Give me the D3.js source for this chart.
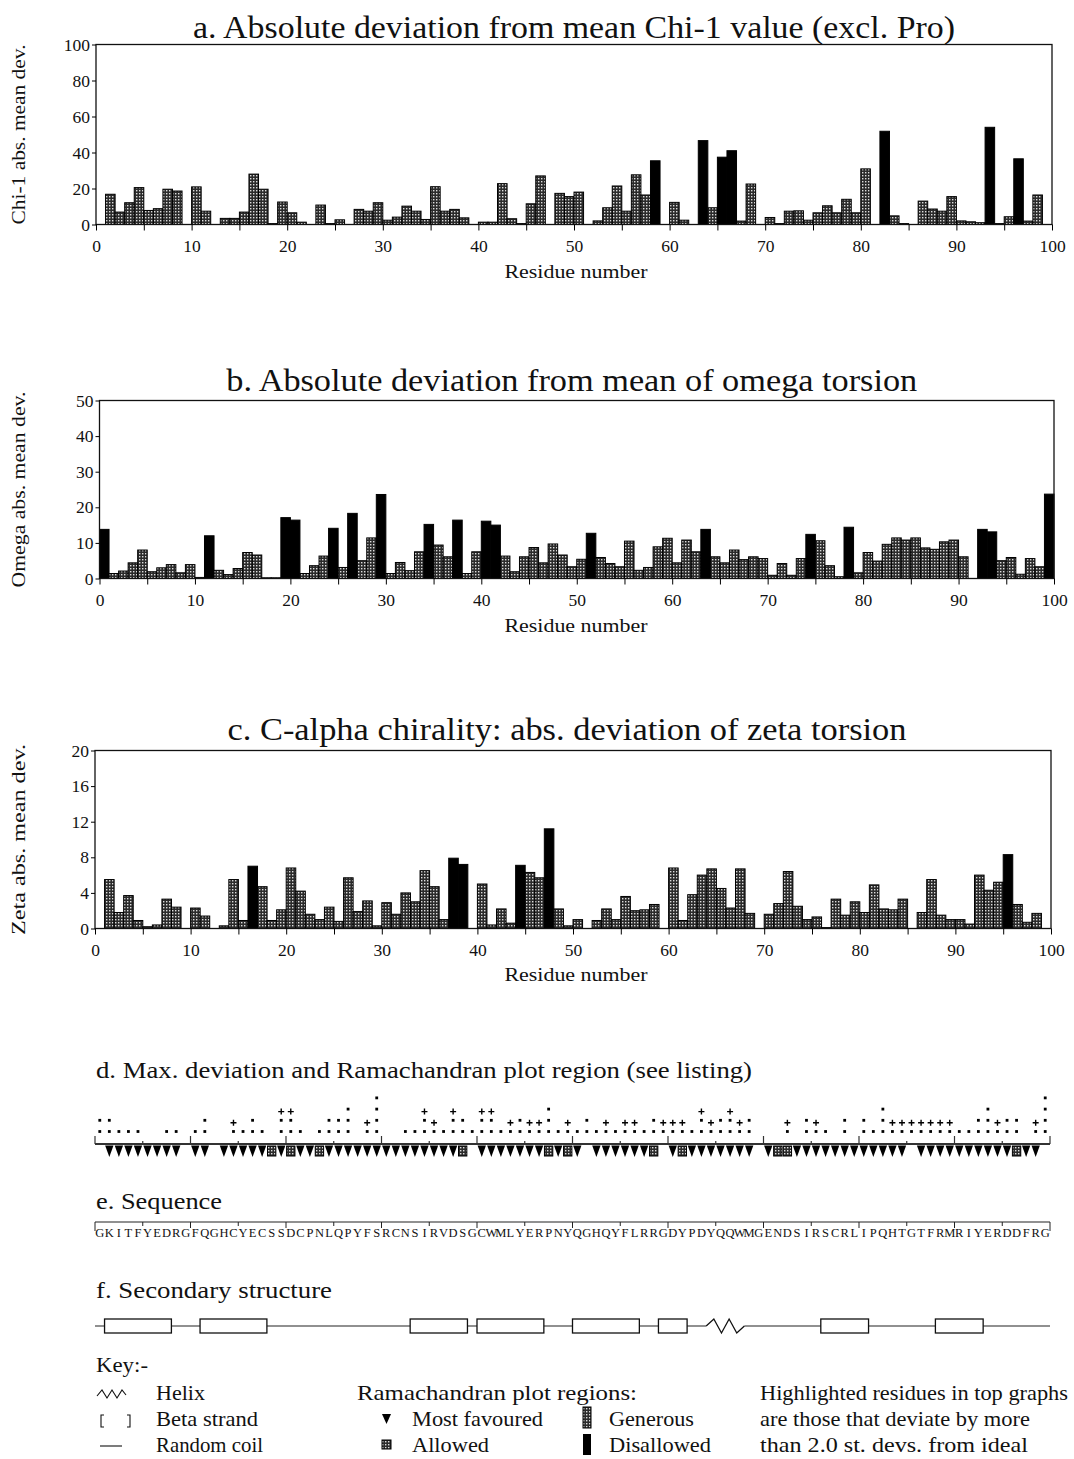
<!DOCTYPE html>
<html>
<head>
<meta charset="utf-8">
<script src="https://cdn.jsdelivr.net/npm/d3@7/dist/d3.min.js"></script>
<style>
    body { margin: 0; background: #fff; }
    svg text { font-family: "Liberation Serif", "DejaVu Serif", serif; fill: #111; }
</style>
</head>
<body>
<svg id="chart" width="1074" height="1459"></svg>
<script>
// residue sequence, one letter per residue (1..100)
let sequence = ("GKITFYEDRG" + "FQGHCYECSS" + "DCPNLQPYFS" + "RCNSIRVDSG" + "CWMLYERPNY" +
    "QGHQYFLRRG" + "DYPDYQQWMG" + "ENDSIRSCRL" + "IPQHTGTFRM" + "RIYERDDFRG").split("");

// a. chi-1 abs. mean dev.
let chi1 = [
    0, 16.8, 6.9, 12.1, 20.5, 7.8, 8.8, 19.6, 18.6, 0,
    20.9, 7.4, 0, 3.4, 3.4, 6.9, 28, 19.6, 0.5, 12.5,
    6.5, 1.3, 0, 10.8, 0.5, 2.6, 0, 8.4, 7.4, 12.1,
    2.4, 4.1, 10.2, 7.4, 2.8, 21, 7.4, 8.4, 3.7, 0,
    1.3, 1.3, 22.7, 3.2, 0.5, 11.5, 27, 0, 17.3, 15.5,
    18, 0, 2, 9.3, 21.4, 7.4, 27.6, 16.4, 35.4, 0,
    12.3, 2.4, 0, 46.6, 9.3, 37.4, 41, 1.9, 22.5, 0,
    3.9, 0.5, 7.4, 7.6, 2.4, 6.5, 10.4, 6.5, 14, 6.5,
    30.9, 0, 51.8, 4.8, 0.5, 0, 13, 8.6, 7.4, 15.5,
    2, 1.5, 1, 54, 0.5, 4.3, 36.5, 1.9, 16.4, 0];
let chi1High = [59, 64, 66, 67, 83, 94, 97];

// b. omega abs. mean dev.
let omega = [
    13.8, 1.4, 2.1, 4.4, 8.0, 1.9, 3.0, 3.9, 1.6, 3.9,
    0.3, 12, 2.3, 1.1, 2.8, 7.3, 6.6, 0.2, 0.2, 17.1,
    16.4, 1.4, 3.6, 6.3, 14.1, 3.1, 18.3, 5.0, 11.4, 23.6,
    1.4, 4.5, 2.2, 7.5, 15.2, 9.4, 6.1, 16.4, 1.4, 7.5,
    16.1, 15.0, 6.3, 1.9, 6.1, 8.7, 4.4, 9.7, 6.6, 3.3,
    5.4, 12.7, 5.9, 4.2, 3.3, 10.5, 2.3, 3.1, 8.9, 11.3,
    4.4, 10.8, 7.5, 13.8, 6.1, 4.4, 8.0, 5.3, 6.1, 5.6,
    0.9, 4.2, 0.9, 5.6, 12.4, 10.6, 3.6, 0.5, 14.4, 1.6,
    7.3, 4.9, 9.6, 11.4, 10.8, 11.4, 8.6, 8.2, 10.3, 10.8,
    6.1, 0, 13.8, 13.1, 5.0, 5.9, 1.2, 5.6, 3.3, 23.7];
let omegaHigh = [1, 12, 20, 21, 25, 27, 30, 35, 38, 41, 42, 52, 64, 75, 79, 93, 94, 100];

// c. zeta abs. mean dev.
let zeta = [
    0, 5.5, 1.8, 3.7, 0.9, 0.2, 0.4, 3.3, 2.4, 0,
    2.3, 1.4, 0, 0.3, 5.5, 0.9, 7.0, 4.7, 0.9, 2.1,
    6.8, 4.2, 1.6, 1.0, 2.4, 0.8, 5.7, 1.9, 3.1, 0.3,
    2.9, 1.6, 4.0, 3.0, 6.5, 4.7, 1.0, 7.9, 7.2, 0,
    5.0, 0.4, 2.2, 0.6, 7.1, 6.3, 5.7, 11.2, 2.2, 0.3,
    1.0, 0, 0.9, 2.2, 1.0, 3.6, 2.0, 2.1, 2.7, 0,
    6.8, 0.9, 3.8, 6.0, 6.7, 4.5, 2.3, 6.7, 1.7, 0,
    1.6, 2.8, 6.4, 2.5, 1.0, 1.3, 0.1, 3.3, 1.5, 3.0,
    1.8, 4.9, 2.2, 2.1, 3.3, 0, 1.8, 5.5, 1.5, 1.0,
    1.0, 0.5, 6.0, 4.3, 5.2, 8.3, 2.7, 0.7, 1.7, 0];
let zetaHigh = [17, 38, 39, 45, 48, 96];

let chiTicks = [0, 20, 40, 60, 80, 100];
let omegaTicks = [0, 10, 20, 30, 40, 50];
let zetaTicks = [0, 4, 8, 12, 16, 20];

// d. max deviation: number of dots per residue, residues topped with a '+'
let maxDevDots = [
    2, 2, 1, 1, 1, 0, 0, 1, 1, 0,
    1, 2, 0, 0, 1, 1, 2, 1, 0, 2,
    2, 1, 0, 1, 2, 2, 3, 0, 1, 4,
    0, 0, 1, 1, 2, 1, 1, 2, 2, 1,
    2, 2, 1, 1, 2, 1, 1, 3, 1, 1,
    1, 2, 1, 1, 1, 1, 1, 1, 2, 1,
    1, 1, 1, 2, 1, 2, 2, 1, 2, 0,
    0, 0, 1, 0, 2, 1, 1, 0, 2, 0,
    2, 1, 3, 1, 1, 1, 1, 1, 1, 1,
    1, 1, 2, 3, 1, 2, 2, 0, 1, 4];
let maxDevPlus = [15, 20, 21, 29, 35, 36, 38, 41, 42, 44, 46, 47, 50, 54, 56, 57, 60, 61, 62, 64,
    65, 67, 68, 73, 76, 84, 85, 86, 87, 88, 89, 90, 95, 99];

// Ramachandran region per residue: F most favoured, A allowed, - none
let ramaRegion = ("-FFFFFFFF-" + "FF-FFFFFAF" + "AFFAFFFFFF" + "FFFFFFFFA-" + "FFFFFFFAFA" +
    "F-FFFFFFA-" + "FAFFFFFFF-" + "FAAFFFFFFF" + "FFFFF-FFFF" + "FFFFFFAFF-").split("");

// f. secondary structure (first, last residue)
let strands = [[2, 8], [12, 18], [34, 39], [41, 47], [51, 57], [60, 62], [77, 81], [89, 93]];
let helices = [[65, 68]];

let residues = d3.range(1, 101);
let svg = d3.select("#chart");
let serif = "Liberation Serif";

// stipple used for the 'generous' bars
let defs = svg.append("defs");
let pat = defs.append("pattern").attr("id", "stip")
    .attr("patternUnits", "userSpaceOnUse").attr("width", 3).attr("height", 3);
pat.append("rect").attr("width", 3).attr("height", 3).attr("fill", "#2b2b2b");
pat.append("rect").attr("x", 1).attr("y", 1).attr("width", 1.4).attr("height", 1.4).attr("fill", "#dcdcdc");

function draw_bars(p) {
    let x = d3.scaleLinear().domain([0, 100]).range([p.left, p.right]);
    let y = d3.scaleLinear().domain([0, p.yTicks[p.yTicks.length - 1]]).range([p.bottom, p.top]);
    let g = svg.append("g");

    g.append("text")
        .attr("x", (p.left + p.right) / 2 + p.titleShift).attr("y", p.titleY)
        .attr("text-anchor", "middle").attr("font-size", 30.5)
        .attr("textLength", p.titleLen).attr("lengthAdjust", "spacingAndGlyphs")
        .text(p.title);

    // bars
    g.append("g").selectAll("rect")
        .data(residues.filter(r => p.values[r - 1] > 0))
        .join("rect")
        .attr("x", r => x(r - 1))
        .attr("width", r => x(r) - x(r - 1))
        .attr("y", r => y(p.values[r - 1]))
        .attr("height", r => y(0) - y(p.values[r - 1]))
        .attr("fill", r => p.high.includes(r) ? "#000" : "url(#stip)")
        .attr("stroke", "#000").attr("stroke-width", 1);

    // frame
    g.append("rect")
        .attr("x", p.left).attr("y", p.top)
        .attr("width", p.right - p.left).attr("height", p.bottom - p.top)
        .attr("fill", "none").attr("stroke", "#111").attr("stroke-width", 1.3);

    // y axis
    g.append("g").attr("transform", `translate(${p.left},0)`)
        .call(d3.axisLeft(y).tickValues(p.yTicks).tickSize(4).tickPadding(2))
        .call(a => a.select(".domain").remove())
        .attr("font-size", 17.5).attr("font-family", serif);

    // x axis, ticks every 5, labels every 10
    g.append("g").attr("transform", `translate(0,${p.bottom})`)
        .call(d3.axisBottom(x).tickValues(d3.range(0, 101, 5)).tickSize(6).tickPadding(9)
            .tickFormat(d => d % 10 === 0 ? d : ""))
        .call(a => a.select(".domain").remove())
        .attr("font-size", 17.5).attr("font-family", serif);

    g.append("text")
        .attr("x", 576).attr("y", p.xlabY)
        .attr("text-anchor", "middle").attr("font-size", 19)
        .attr("textLength", 143).attr("lengthAdjust", "spacingAndGlyphs")
        .text("Residue number");

    g.append("text")
        .attr("transform", `translate(25,${(p.top + p.bottom) / 2}) rotate(-90)`)
        .attr("text-anchor", "middle").attr("font-size", 19)
        .attr("textLength", p.ylabLen).attr("lengthAdjust", "spacingAndGlyphs")
        .text(p.ylab);
}

draw_bars({
    title: "a. Absolute deviation from mean Chi-1 value (excl. Pro)", titleY: 38, titleLen: 762, titleShift: 0,
    ylab: "Chi-1 abs. mean dev.", ylabLen: 180, values: chi1, high: chi1High, yTicks: chiTicks,
    left: 96, right: 1052, top: 44.5, bottom: 224.5, xlabY: 278
});
draw_bars({
    title: "b. Absolute deviation from mean of omega torsion", titleY: 391, titleLen: 691, titleShift: -5,
    ylab: "Omega abs. mean dev.", ylabLen: 196, values: omega, high: omegaHigh, yTicks: omegaTicks,
    left: 99.5, right: 1054, top: 400.5, bottom: 578.5, xlabY: 632
});
draw_bars({
    title: "c. C-alpha chirality: abs. deviation of zeta torsion", titleY: 740, titleLen: 679, titleShift: -6,
    ylab: "Zeta abs. mean dev.", ylabLen: 191, values: zeta, high: zetaHigh, yTicks: zetaTicks,
    left: 95, right: 1051, top: 750.5, bottom: 928.5, xlabY: 981
});

// lower panels share one residue scale
let xs = d3.scaleLinear().domain([0, 100]).range([95, 1050]);

function section_title(label, y, len) {
    svg.append("text").attr("x", 96).attr("y", y).attr("font-size", 23)
        .attr("textLength", len).attr("lengthAdjust", "spacingAndGlyphs").text(label);
}

// d. max deviation + Ramachandran regions
section_title("d. Max. deviation and Ramachandran plot region (see listing)", 1078, 656);
let dBase = 1144;
let gd = svg.append("g");
gd.append("line").attr("x1", xs(0)).attr("x2", xs(100)).attr("y1", dBase).attr("y2", dBase)
    .attr("stroke", "#333").attr("stroke-width", 2);
gd.selectAll(".dtick").data(d3.range(0, 101, 5)).join("line")
    .attr("x1", d => xs(d)).attr("x2", d => xs(d))
    .attr("y1", dBase).attr("y2", d => dBase - (d % 10 === 0 ? 8 : 3))
    .attr("stroke", "#333").attr("stroke-width", 1.2);

let dots = [];
residues.forEach(r => {
    for (let k = 0; k < maxDevDots[r - 1]; k++) dots.push({ r: r, k: k });
});
gd.selectAll(".dot").data(dots).join("rect")
    .attr("x", d => xs(d.r - 0.5) - 1.4).attr("y", d => dBase - 12.5 - d.k * 11.2 - 1.4)
    .attr("width", 2.8).attr("height", 2.8).attr("fill", "#000");
gd.selectAll(".plus").data(maxDevPlus).join("path")
    .attr("d", r => {
        let cx = xs(r - 0.5), cy = dBase - 12.5 - maxDevDots[r - 1] * 11.2 + 2.5;
        return `M${cx - 3},${cy}h6M${cx},${cy - 3}v6`;
    })
    .attr("stroke", "#000").attr("stroke-width", 1.4);

gd.selectAll(".fav").data(residues.filter(r => ramaRegion[r - 1] === "F")).join("path")
    .attr("d", r => `M${xs(r - 1) + 0.6},${dBase + 1.5}L${xs(r) - 0.6},${dBase + 1.5}L${xs(r - 0.5)},${dBase + 13}Z`)
    .attr("fill", "#000");
gd.selectAll(".allow").data(residues.filter(r => ramaRegion[r - 1] === "A")).join("rect")
    .attr("x", r => xs(r - 1) + 0.6).attr("width", r => xs(r) - xs(r - 1) - 1.2)
    .attr("y", dBase + 2).attr("height", 10)
    .attr("fill", "url(#stip)").attr("stroke", "#000").attr("stroke-width", 1);

// e. sequence
section_title("e. Sequence", 1209, 126);
let eTop = 1222;
let ge = svg.append("g");
ge.append("line").attr("x1", xs(0)).attr("x2", xs(100)).attr("y1", eTop).attr("y2", eTop)
    .attr("stroke", "#222").attr("stroke-width", 1.2);
ge.selectAll("line.et").data(d3.range(0, 101, 5)).join("line").attr("class", "et")
    .attr("x1", d => xs(d)).attr("x2", d => xs(d))
    .attr("y1", eTop).attr("y2", d => eTop + (d === 0 || d === 100 ? 9 : d % 10 === 0 ? 6 : 4))
    .attr("stroke", "#222").attr("stroke-width", 1);
ge.selectAll("text").data(residues).join("text")
    .attr("x", r => xs(r - 0.5)).attr("y", eTop + 15)
    .attr("text-anchor", "middle").attr("font-size", 12.5)
    .text(r => sequence[r - 1]);

// f. secondary structure
section_title("f. Secondary structure", 1298, 236);
let fMid = 1326;
let gf = svg.append("g");
gf.append("line").attr("x1", xs(0)).attr("x2", xs(100)).attr("y1", fMid).attr("y2", fMid)
    .attr("stroke", "#222").attr("stroke-width", 1.2);
gf.selectAll("rect").data(strands).join("rect")
    .attr("x", d => xs(d[0] - 1)).attr("width", d => xs(d[1]) - xs(d[0] - 1))
    .attr("y", fMid - 7).attr("height", 14)
    .attr("fill", "#fff").attr("stroke", "#111").attr("stroke-width", 1.3);
helices.forEach(h => {
    let x0 = xs(h[0] - 1), x1 = xs(h[1]);
    gf.append("line").attr("x1", x0).attr("x2", x1).attr("y1", fMid).attr("y2", fMid)
        .attr("stroke", "#fff").attr("stroke-width", 3);
    let n = 5, pts = [[x0, fMid]];
    for (let i = 1; i < n; i++) pts.push([x0 + (x1 - x0) * i / n, i % 2 ? fMid - 7 : fMid + 7]);
    pts.push([x1, fMid]);
    gf.append("path").attr("d", d3.line()(pts))
        .attr("fill", "none").attr("stroke", "#111").attr("stroke-width", 1.3);
});

// key
let gk = svg.append("g");
function key_text(label, x, y, len) {
    gk.append("text").attr("x", x).attr("y", y).attr("font-size", 21)
        .attr("textLength", len).attr("lengthAdjust", "spacingAndGlyphs").text(label);
}
key_text("Key:-", 96, 1372, 52);
key_text("Helix", 156, 1400, 49);
key_text("Beta strand", 156, 1426, 102);
key_text("Random coil", 156, 1452, 107);
key_text("Ramachandran plot regions:", 357, 1400, 280);
key_text("Most favoured", 412, 1426, 131);
key_text("Allowed", 412, 1452, 77);
key_text("Generous", 609, 1426, 85);
key_text("Disallowed", 609, 1452, 102);
key_text("Highlighted residues in top graphs", 760, 1400, 308);
key_text("are those that deviate by more", 760, 1426, 270);
key_text("than  2.0 st. devs. from ideal", 760, 1452, 268);

gk.append("path").attr("d", d3.line()([[97, 1396], [102, 1390], [107, 1398], [112, 1390], [117, 1398], [122, 1390], [126, 1395]]))
    .attr("fill", "none").attr("stroke", "#111").attr("stroke-width", 1.1);
gk.append("path").attr("d", "M104,1415h-3v12h3M127,1415h3v12h-3")
    .attr("fill", "none").attr("stroke", "#111").attr("stroke-width", 1.1);
gk.append("line").attr("x1", 100).attr("x2", 122).attr("y1", 1446).attr("y2", 1446)
    .attr("stroke", "#111").attr("stroke-width", 1.1);
gk.append("path").attr("d", "M382,1414L391,1414L386.5,1424Z").attr("fill", "#000");
gk.append("rect").attr("x", 382).attr("y", 1440).attr("width", 9).attr("height", 9)
    .attr("fill", "url(#stip)").attr("stroke", "#000");
gk.append("rect").attr("x", 583).attr("y", 1407).attr("width", 8).attr("height", 21)
    .attr("fill", "url(#stip)").attr("stroke", "#000");
gk.append("rect").attr("x", 583).attr("y", 1434).attr("width", 8).attr("height", 21)
    .attr("fill", "#000");
</script>
</body>
</html>
